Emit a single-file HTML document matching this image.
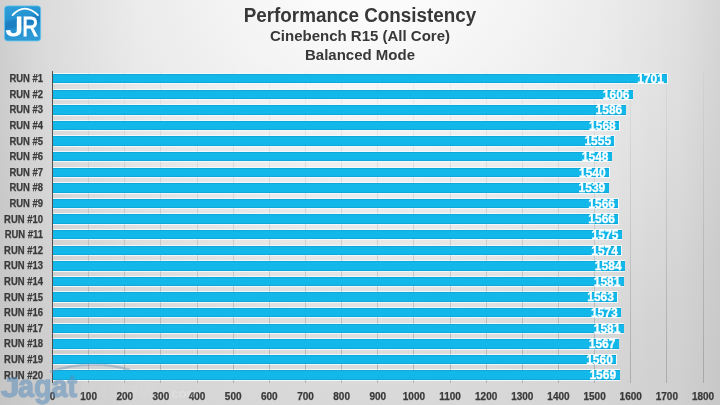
<!DOCTYPE html>
<html><head><meta charset="utf-8"><style>
*{margin:0;padding:0;box-sizing:border-box}
html,body{width:720px;height:405px;overflow:hidden}
.wrap{position:absolute;left:0;top:0;width:720px;height:405px;overflow:hidden;will-change:transform}
body{position:relative;font-family:"Liberation Sans", Arial, sans-serif;background:#cfcfcf;}
.bg{position:absolute;left:0;top:0;width:720px;height:405px;
background:linear-gradient(to right, rgba(0,0,0,0.065) 0px, rgba(0,0,0,0.03) 40px, rgba(0,0,0,0) 140px),
linear-gradient(to left, rgba(0,0,0,0.05) 0px, rgba(0,0,0,0.02) 40px, rgba(0,0,0,0) 130px),
radial-gradient(ellipse 520px 560px at 375px -60px, #ffffff 0%, #fbfbfb 14%, #f5f5f5 27%, #e9e9e9 52%, #dedede 72%, #d7d7d7 85%, #d3d3d3 100%);background-color:#d1d1d1}
.logo{position:absolute;left:0;top:0}
.t{position:absolute;left:0;width:720px;text-align:center;color:#383838;font-weight:bold;white-space:nowrap}
.t1{top:2.5px;font-size:20.3px;line-height:24px;transform:scaleX(0.93);transform-origin:360px 0}
.t2{top:27px;font-size:15px;line-height:18px}
.t3{top:46px;font-size:15px;line-height:18px}
.g{position:absolute;top:71px;height:312px;width:1px;background:linear-gradient(to bottom, rgba(0,0,0,0.03), rgba(0,0,0,0.09) 45%, rgba(0,0,0,0.18) 100%)}
.ax{position:absolute;left:52px;top:71px;width:1px;height:312px;background:#505050}
.b{position:absolute;left:53px;height:9.5px;background:#12b8ea;box-shadow:inset 0 1px 0 #10a8d8, inset 0 -1px 0 #10a8d8}
.h{position:absolute;left:53px;height:11.5px;background:rgba(242,251,255,0.92)}
.b span{position:absolute;right:3.4px;top:-1px;font-size:12px;line-height:12px;color:#fff;font-weight:bold;-webkit-text-stroke:0.3px #fff}
.c{position:absolute;left:0;width:43px;-webkit-text-stroke:0.25px #3a3a3a;height:16px;line-height:16px;text-align:right;font-size:10px;transform:scaleX(0.945);transform-origin:100% 50%;font-weight:bold;color:#3a3a3a;white-space:nowrap}
.x{position:absolute;top:389.5px;width:60px;text-align:center;font-size:10px;line-height:14px;font-weight:bold;color:#3a3a3a;-webkit-text-stroke:0.25px #3a3a3a}
.wm{position:absolute;left:0;top:350px}
</style></head><body><div class="wrap">
<div class="bg"></div>
<svg class="logo" width="46" height="46" viewBox="0 0 46 46">
<defs>
<linearGradient id="lg" x1="0" y1="0" x2="0.25" y2="1">
<stop offset="0" stop-color="#2fa0da"/>
<stop offset="0.4" stop-color="#2593d1"/>
<stop offset="0.47" stop-color="#1c80c3"/>
<stop offset="0.62" stop-color="#1b7fc2"/>
<stop offset="0.7" stop-color="#2590cf"/>
<stop offset="1" stop-color="#2d9ad6"/>
</linearGradient>
</defs>
<rect x="4.6" y="5.9" width="36" height="35" rx="3" fill="url(#lg)" stroke="#62c2ec" stroke-width="0.9"/>
<path d="M12.6 15.1 Q24.5 2.1 38 15.2" fill="none" stroke="#fff" stroke-width="1.8" stroke-linecap="round"/>
<clipPath id="jc"><path d="M16.9 0 H46 V46 H0 V20.5 H16.9 Z"/></clipPath>
<g clip-path="url(#jc)"><text x="0" y="0" transform="translate(6.06,35.9) scale(1.29,1.05)" font-family="Liberation Sans, Arial, sans-serif" font-size="26.8" fill="#fff" stroke="#fff" stroke-width="1.0">J</text></g>
<text x="0" y="0" transform="translate(22.3,35.9) scale(0.82,1.05)" font-family="Liberation Sans, Arial, sans-serif" font-size="26.8" fill="#fff" stroke="#fff" stroke-width="1.0">R</text>
</svg>
<div class="t t1">Performance Consistency</div>
<div class="t t2">Cinebench R15 (All Core)</div>
<div class="t t3">Balanced Mode</div>
<div class="h" style="top:72.90px;width:614.74px"></div><div class="h" style="top:88.50px;width:580.41px"></div><div class="h" style="top:104.10px;width:573.18px"></div><div class="h" style="top:119.70px;width:566.68px"></div><div class="h" style="top:135.30px;width:561.98px"></div><div class="h" style="top:150.90px;width:559.45px"></div><div class="h" style="top:166.50px;width:556.56px"></div><div class="h" style="top:182.10px;width:556.19px"></div><div class="h" style="top:197.70px;width:565.95px"></div><div class="h" style="top:213.30px;width:565.95px"></div><div class="h" style="top:228.90px;width:569.21px"></div><div class="h" style="top:244.50px;width:568.84px"></div><div class="h" style="top:260.10px;width:572.46px"></div><div class="h" style="top:275.70px;width:571.37px"></div><div class="h" style="top:291.30px;width:564.87px"></div><div class="h" style="top:306.90px;width:568.48px"></div><div class="h" style="top:322.50px;width:571.37px"></div><div class="h" style="top:338.10px;width:566.31px"></div><div class="h" style="top:353.70px;width:563.78px"></div><div class="h" style="top:369.30px;width:567.04px"></div>
<div class="g" style="left:88.14px"></div><div class="g" style="left:124.28px"></div><div class="g" style="left:160.42px"></div><div class="g" style="left:196.56px"></div><div class="g" style="left:232.70px"></div><div class="g" style="left:268.84px"></div><div class="g" style="left:304.98px"></div><div class="g" style="left:341.12px"></div><div class="g" style="left:377.26px"></div><div class="g" style="left:413.40px"></div><div class="g" style="left:449.54px"></div><div class="g" style="left:485.68px"></div><div class="g" style="left:521.82px"></div><div class="g" style="left:557.96px"></div><div class="g" style="left:594.10px"></div><div class="g" style="left:630.24px"></div><div class="g" style="left:666.38px"></div><div class="g" style="left:702.52px"></div>
<div class="b" style="top:73.90px;width:614.24px"><span>1701</span></div><div class="b" style="top:89.50px;width:579.91px"><span>1606</span></div><div class="b" style="top:105.10px;width:572.68px"><span>1586</span></div><div class="b" style="top:120.70px;width:566.18px"><span>1568</span></div><div class="b" style="top:136.30px;width:561.48px"><span>1555</span></div><div class="b" style="top:151.90px;width:558.95px"><span>1548</span></div><div class="b" style="top:167.50px;width:556.06px"><span>1540</span></div><div class="b" style="top:183.10px;width:555.69px"><span>1539</span></div><div class="b" style="top:198.70px;width:565.45px"><span>1566</span></div><div class="b" style="top:214.30px;width:565.45px"><span>1566</span></div><div class="b" style="top:229.90px;width:568.71px"><span>1575</span></div><div class="b" style="top:245.50px;width:568.34px"><span>1574</span></div><div class="b" style="top:261.10px;width:571.96px"><span>1584</span></div><div class="b" style="top:276.70px;width:570.87px"><span>1581</span></div><div class="b" style="top:292.30px;width:564.37px"><span>1563</span></div><div class="b" style="top:307.90px;width:567.98px"><span>1573</span></div><div class="b" style="top:323.50px;width:570.87px"><span>1581</span></div><div class="b" style="top:339.10px;width:565.81px"><span>1567</span></div><div class="b" style="top:354.70px;width:563.28px"><span>1560</span></div><div class="b" style="top:370.30px;width:566.54px"><span>1569</span></div>
<div class="ax"></div>
<div class="c" style="top:71.25px">RUN #1</div><div class="c" style="top:86.85px">RUN #2</div><div class="c" style="top:102.45px">RUN #3</div><div class="c" style="top:118.05px">RUN #4</div><div class="c" style="top:133.65px">RUN #5</div><div class="c" style="top:149.25px">RUN #6</div><div class="c" style="top:164.85px">RUN #7</div><div class="c" style="top:180.45px">RUN #8</div><div class="c" style="top:196.05px">RUN #9</div><div class="c" style="top:211.65px">RUN #10</div><div class="c" style="top:227.25px">RUN #11</div><div class="c" style="top:242.85px">RUN #12</div><div class="c" style="top:258.45px">RUN #13</div><div class="c" style="top:274.05px">RUN #14</div><div class="c" style="top:289.65px">RUN #15</div><div class="c" style="top:305.25px">RUN #16</div><div class="c" style="top:320.85px">RUN #17</div><div class="c" style="top:336.45px">RUN #18</div><div class="c" style="top:352.05px">RUN #19</div><div class="c" style="top:367.65px">RUN #20</div>
<div class="x" style="left:22.50px">0</div><div class="x" style="left:58.64px">100</div><div class="x" style="left:94.78px">200</div><div class="x" style="left:130.92px">300</div><div class="x" style="left:167.06px">400</div><div class="x" style="left:203.20px">500</div><div class="x" style="left:239.34px">600</div><div class="x" style="left:275.48px">700</div><div class="x" style="left:311.62px">800</div><div class="x" style="left:347.76px">900</div><div class="x" style="left:383.90px">1000</div><div class="x" style="left:420.04px">1100</div><div class="x" style="left:456.18px">1200</div><div class="x" style="left:492.32px">1300</div><div class="x" style="left:528.46px">1400</div><div class="x" style="left:564.60px">1500</div><div class="x" style="left:600.74px">1600</div><div class="x" style="left:636.88px">1700</div><div class="x" style="left:673.02px">1800</div>
<svg class="wm" width="220" height="55" viewBox="0 0 220 55">
<path d="M50 22 Q90 8 130 20" fill="none" stroke="rgba(110,145,180,0.4)" stroke-width="2.6"/>
<g font-family="Liberation Sans, Arial, sans-serif" font-weight="bold" fill="rgb(88,142,188)" stroke="rgb(88,142,188)" stroke-width="1.3" stroke-linejoin="round" opacity="0.52">
<text x="0" y="0" transform="translate(0.9,47) scale(1.2,1.02)" font-size="27.6">J</text>
<text x="0" y="0" transform="translate(17.9,47) scale(0.9,1)" font-size="32">agat</text>
</g>
<text x="80" y="47" font-family="Liberation Sans, Arial, sans-serif" font-weight="bold" font-size="22" fill="rgba(255,255,255,0.06)">Review</text>
<text x="168" y="48" font-family="Liberation Sans, Arial, sans-serif" font-weight="bold" font-size="13" fill="rgba(255,255,255,0.22)">.com</text>
</svg>
</div></body></html>
